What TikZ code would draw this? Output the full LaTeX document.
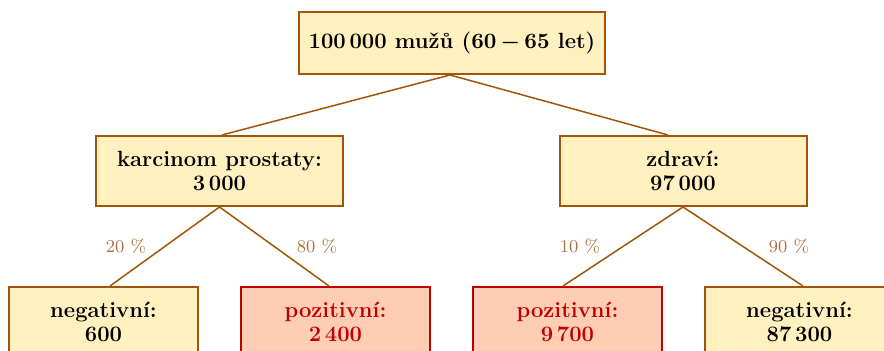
\documentclass[tikz,border=0pt]{standalone}
\usepackage{fontspec}
\usepackage{amsmath}
\definecolor{boxfill}{HTML}{FFF0C0}
\definecolor{boxline}{HTML}{A25408}
\definecolor{posfill}{HTML}{FFCCB4}
\definecolor{posline}{HTML}{C00000}
\definecolor{pctcolor}{HTML}{A8723E}
\tikzset{
  basebox/.style={draw, line width=1pt, align=center,
    font=\fontsize{11}{12}\selectfont\bfseries, inner sep=0pt},
  neutral/.style={basebox, fill=boxfill, draw=boxline, text=black},
  positive/.style={basebox, fill=posfill, draw=posline, text=posline},
  topbox/.style={minimum width=153pt, minimum height=31pt},
  midbox/.style={minimum width=123.5pt, minimum height=35pt},
  leafbox/.style={minimum width=94.5pt, minimum height=35pt},
  branch/.style={draw=boxline, line width=0.75pt},
  pct/.style={font=\small, text=pctcolor}
}
\begin{document}
\begin{tikzpicture}[x=0.5pt, y=-0.5pt]
  \useasboundingbox (0,0) rectangle (884,351);

  % root of the tree
  \node[neutral, topbox] (root) at (452,43)
    {100\,000 mužů ({\boldmath$60\,{-}\,65$} let)};

  % second level
  \node[neutral, midbox] (ill) at (219.5,171) {karcinom prostaty:\\3\,000};
  \node[neutral, midbox] (healthy) at (683,171) {zdraví:\\97\,000};

  % test results
  \node[neutral, leafbox]  (illneg)  at (103.5,322) {negativní:\\600};
  \node[positive, leafbox] (illpos)  at (335.5,322) {pozitivní:\\2\,400};
  \node[positive, leafbox] (healpos) at (567.5,322) {pozitivní:\\9\,700};
  \node[neutral, leafbox]  (healneg) at (799.5,322) {negativní:\\87\,300};

  % branches
  \draw[branch] ([xshift=-1pt]root.south) -- ([xshift=1.25pt]ill.north);
  \draw[branch] ([xshift=-1pt]root.south) -- ([xshift=-7.5pt]healthy.north);
  \draw[branch] (ill.south) -- ([xshift=3.25pt]illneg.north);
  \draw[branch] (ill.south) -- ([xshift=-3.25pt]illpos.north);
  \draw[branch] (healthy.south) -- ([xshift=-2.25pt]healpos.north);
  \draw[branch] (healthy.south) -- ([xshift=1.75pt]healneg.north);

  % branch probabilities
  \node[pct] (p20) at (126,246) {20 \%};
  \node[pct] (p80) at (317,246) {80 \%};
  \node[pct] (p10) at (580,246) {10 \%};
  \node[pct] (p90) at (789,246) {90 \%};
\end{tikzpicture}
\end{document}
